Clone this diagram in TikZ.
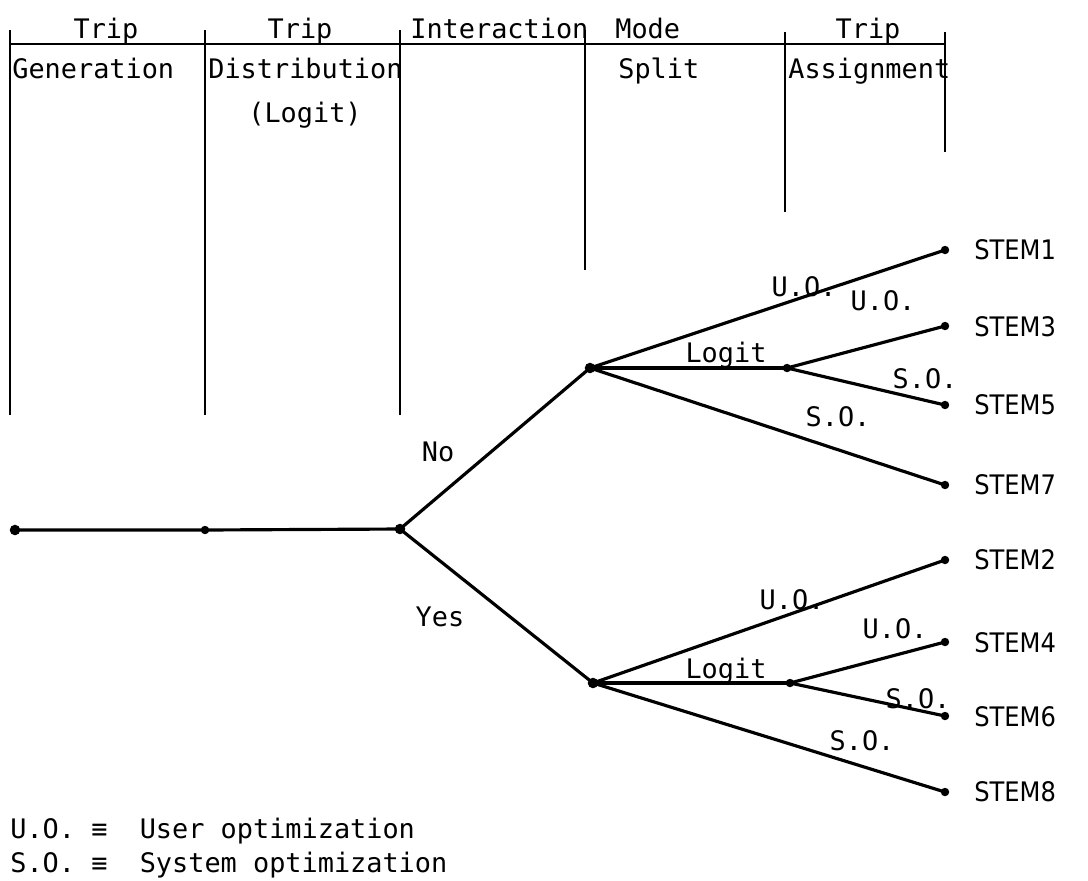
\documentclass[tikz,border=0pt]{standalone}
\usepackage{fontspec}
\setmonofont{DejaVu Sans Mono}
\newfontfamily\stemfont{DejaVu Sans Condensed}
\begin{document}
\begin{tikzpicture}[x=0.02cm,y=-0.02cm,
  dot/.style={circle,fill=black,inner sep=0pt,minimum size=4.8pt},
  bigdot/.style={circle,fill=black,inner sep=0pt,minimum size=6pt},
  branch/.style={line width=1.8pt},
  hdr/.style={line width=1.1pt},
  col/.style={line width=0.7pt},
  txt/.style={font=\ttfamily\fontsize{15.3}{18}\selectfont,inner sep=0pt},
  stem/.style={font=\stemfont\fontsize{15.3}{17}\selectfont,inner sep=0pt,anchor=west}]
\useasboundingbox (0,0) rectangle (1088,880);
% header grid
\draw[hdr] (10,44) -- (945,44);
\draw[col] (10,30) -- (10,415);
\draw[col] (205,30) -- (205,415);
\draw[col] (400,30) -- (400,415);
\draw[col] (585,30) -- (585,270);
\draw[col] (785,32) -- (785,212);
\draw[col] (945,32) -- (945,152);
% header text
\node[txt,anchor=base] (h1) at (106,38) {Trip};
\node[txt,anchor=base west] (h1b) at (12,78) {Generation};
\node[txt,anchor=base] (h2) at (300,38) {Trip};
\node[txt,anchor=base west] (h2b) at (208,78) {Distribution};
\node[txt,anchor=base] (h2c) at (305,122) {(Logit)};
\node[txt,anchor=base west] (h3) at (410,38) {Interaction};
\node[txt,anchor=base west] (h4) at (615,38) {Mode};
\node[txt,anchor=base west] (h4b) at (618,78) {Split};
\node[txt,anchor=base] (h5) at (868,38) {Trip};
\node[txt,anchor=base west] (h5b) at (788,78) {Assignment};
% tree nodes
\node[bigdot] (r) at (15,530) {};
\node[dot] (g) at (205,530) {};
\node[bigdot] (d) at (400,529) {};
\node[bigdot] (no) at (590,368) {};
\node[bigdot] (yes) at (593,683) {};
\node[dot] (lu) at (787,368) {};
\node[dot] (ll) at (790,683) {};
\node[dot] (s1) at (945,250) {};
\node[dot] (s3) at (945,326) {};
\node[dot] (s5) at (945,405) {};
\node[dot] (s7) at (945,485) {};
\node[dot] (s2) at (945,560) {};
\node[dot] (s4) at (945,642) {};
\node[dot] (s6) at (945,716) {};
\node[dot] (s8) at (945,792) {};
% branches
\draw[branch] (r.center) -- (g.center) -- (d.center);
\draw[branch] (d.center) -- (no.center);
\draw[branch] (d.center) -- (yes.center);
\draw[branch] (no.center) -- (s1.center);
\draw[branch] (no.center) -- (lu.center);
\draw[branch] (no.center) -- (s7.center);
\draw[branch] (lu.center) -- (s3.center);
\draw[branch] (lu.center) -- (s5.center);
\draw[branch] (yes.center) -- (s2.center);
\draw[branch] (yes.center) -- (ll.center);
\draw[branch] (yes.center) -- (s8.center);
\draw[branch] (ll.center) -- (s4.center);
\draw[branch] (ll.center) -- (s6.center);
% branch labels
\node[txt] (lno) at (438,452) {No};
\node[txt] (lyes) at (440,617) {Yes};
\node[txt,anchor=base] (a1) at (804,296) {U.O.};
\node[txt,anchor=base] (a2) at (726,362) {Logit};
\node[txt,anchor=base] (a3) at (883,310) {U.O.};
\node[txt,anchor=base] (a4) at (925,388) {S.O.};
\node[txt,anchor=base] (a5) at (838,426) {S.O.};
\node[txt,anchor=base] (b1) at (792,609) {U.O.};
\node[txt,anchor=base] (b2) at (726,678) {Logit};
\node[txt,anchor=base] (b3) at (895,638) {U.O.};
\node[txt,anchor=base] (b4) at (918,708) {S.O.};
\node[txt,anchor=base] (b5) at (862,750) {S.O.};
% stem labels
\node[stem] (t1) at (974,250) {STEM1};
\node[stem] (t3) at (974,327) {STEM3};
\node[stem] (t5) at (974,405) {STEM5};
\node[stem] (t7) at (974,485) {STEM7};
\node[stem] (t2) at (974,560) {STEM2};
\node[stem] (t4) at (974,643) {STEM4};
\node[stem] (t6) at (974,717) {STEM6};
\node[stem] (t8) at (974,792) {STEM8};
% legend
\node[txt,anchor=base west] (leg1) at (10,838) {U.O.~≡~~User optimization};
\node[txt,anchor=base west] (leg2) at (10,872) {S.O.~≡~~System optimization};
\end{tikzpicture}
\end{document}
